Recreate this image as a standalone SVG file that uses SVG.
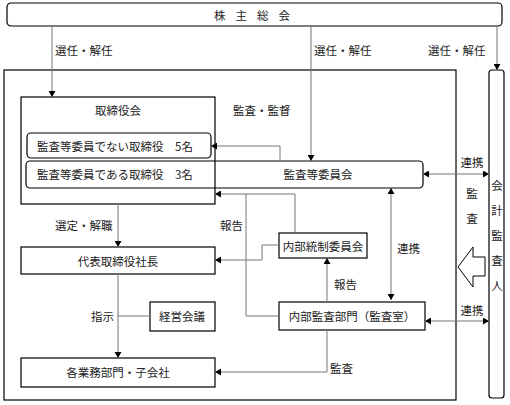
<svg xmlns="http://www.w3.org/2000/svg" width="510" height="405" viewBox="0 0 510 405">
<style>
text{font-family:"Noto Sans CJK JP","Noto Sans CJK SC",sans-serif;font-size:11.5px;fill:#222;dominant-baseline:central}
.c{text-anchor:middle}
.box{fill:#fff;stroke:#000;stroke-width:1.2}
.frame{fill:none;stroke:#000;stroke-width:1.2}
.ln{fill:none;stroke:#777;stroke-width:1}
</style>
<defs>
<marker id="ah" markerWidth="7" markerHeight="7" refX="6" refY="3.5" orient="auto-start-reverse" markerUnits="userSpaceOnUse">
<path d="M0,0 L6,3.5 L0,7 Z" fill="#000"/>
</marker>
</defs>
<rect width="510" height="405" fill="#fff"/>
<g id="outer"><rect class="frame" x="4" y="70" width="452" height="330"/></g>
<g id="kabunushi"><rect class="box" x="7" y="3" width="495" height="23" rx="4"/><text class="c" x="257" y="15" letter-spacing="10">株主総会</text></g>
<g id="kaikei"><rect class="box" x="489" y="70" width="15" height="328" rx="3"/>
<text class="c" x="497" y="185">会</text><text class="c" x="497" y="210">計</text><text class="c" x="497" y="235">監</text><text class="c" x="497" y="260">査</text><text class="c" x="497" y="285">人</text></g>
<g id="torishimariyakukai"><rect class="frame" x="21" y="97" width="194" height="107"/><text class="c" x="118" y="110">取締役会</text></g>
<g id="kansatounai"><rect class="box" x="27" y="133" width="184" height="25" rx="4"/><text x="37" y="146">監査等委員でない取締役　5名</text></g>
<g id="kansatouiinkai"><rect class="frame" x="26" y="161" width="397" height="27" rx="4"/><text x="37" y="174">監査等委員である取締役　3名</text><text class="c" x="318" y="174">監査等委員会</text></g>
<g id="daihyou"><rect class="box" x="21" y="247" width="194" height="27"/><text class="c" x="118" y="261">代表取締役社長</text></g>
<g id="naibutousei"><rect class="box" x="279" y="233" width="88" height="25"/><text class="c" x="323" y="246">内部統制委員会</text></g>
<g id="naibukansa"><rect class="box" x="279" y="302" width="146" height="28"/><text class="c" x="352" y="316">内部監査部門（監査室）</text></g>
<g id="keiei"><rect class="box" x="150" y="302" width="65" height="29"/><text class="c" x="182" y="316">経営会議</text></g>
<g id="kakugyoumu"><rect class="box" x="21" y="358" width="194" height="29"/><text class="c" x="118" y="372">各業務部門・子会社</text></g>
<g id="connectors">
<path class="ln" d="M52,26 V97" marker-end="url(#ah)"/>
<path class="ln" d="M311,26 V161" marker-end="url(#ah)"/>
<path class="ln" d="M497,26 V70" marker-end="url(#ah)"/>
<path class="ln" d="M280,161 V146 H211" marker-end="url(#ah)"/>
<path class="ln" d="M423,174 H489" marker-start="url(#ah)" marker-end="url(#ah)"/>
<path class="ln" d="M295,233 V194 H215" marker-end="url(#ah)"/>
<path class="ln" d="M279,316 H246 V194"/>
<path class="ln" d="M279,245 H262 V260 H215" marker-end="url(#ah)"/>
<path class="ln" d="M327,302 V258" marker-end="url(#ah)"/>
<path class="ln" d="M391,188 V300" marker-start="url(#ah)" marker-end="url(#ah)"/>
<path class="ln" d="M425,321 H489" marker-start="url(#ah)" marker-end="url(#ah)"/>
<path class="ln" d="M118,204 V247" marker-end="url(#ah)"/>
<path class="ln" d="M118,274 V358" marker-end="url(#ah)"/>
<path class="ln" d="M118,316 H150"/>
<path class="ln" d="M327,330 V372 H215" marker-end="url(#ah)"/>
<path d="M458,267 L473,247 V257 H485 V276 H473 V287 Z" fill="#fff" stroke="#000" stroke-width="1"/>
</g>
<g id="labels">
<text x="55" y="50">選任・解任</text>
<text x="314" y="50">選任・解任</text>
<text x="428" y="50">選任・解任</text>
<text x="233" y="110">監査・監督</text>
<text class="c" x="472" y="162">連携</text>
<text class="c" x="472" y="193">監</text>
<text class="c" x="472" y="218">査</text>
<text x="55" y="225">選定・解職</text>
<text x="220" y="225">報告</text>
<text x="397" y="248">連携</text>
<text x="334" y="284">報告</text>
<text x="91" y="316">指示</text>
<text class="c" x="472" y="310">連携</text>
<text x="330" y="368">監査</text>
</g>
</svg>
